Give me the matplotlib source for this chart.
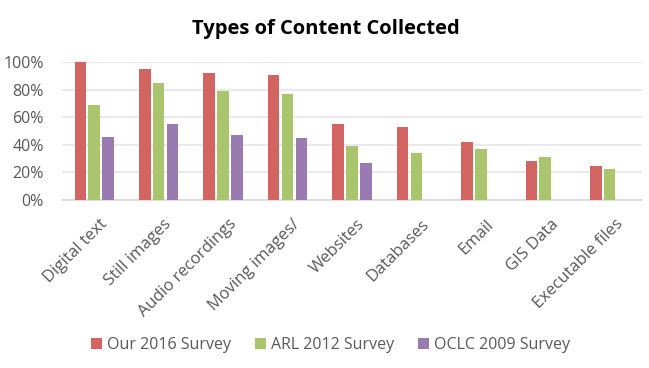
import numpy as np
import matplotlib.pyplot as plt
import matplotlib.transforms as mtransforms
from matplotlib.ticker import PercentFormatter

categories = ["Digital text", "Still images", "Audio recordings", "Moving images/",
              "Websites", "Databases", "Email", "GIS Data", "Executable files"]
survey_2016 = [100, 95, 92, 91, 55, 53, 42, 28, 25]
arl_2012 = [69, 85, 79, 77, 39, 34, 37, 31, 22.5]
oclc_2009 = [46, 55, 47, 45, 27, np.nan, np.nan, np.nan, np.nan]
series_names = ["Our 2016 Survey", "ARL 2012 Survey", "OCLC 2009 Survey"]
colors = ["#D26462", "#A9C66F", "#997BB2"]

plt.rcParams['font.family'] = ['Open Sans', 'DejaVu Sans']

fig = plt.figure(figsize=(6.49, 3.68), dpi=100)
ax = fig.add_axes([0.0955, 0.4565, 0.8935, 0.3742])

x = np.arange(len(categories))
w = 0.18
step = 0.215
for i, (vals, name, c) in enumerate(zip([survey_2016, arl_2012, oclc_2009], series_names, colors)):
    ax.bar(x + (i - 1) * step, np.array(vals) / 100, width=w, color=c, label=name, zorder=3)

ax.set_xlim(-0.5, len(categories) - 0.5)
ax.set_ylim(0, 1.0)
ax.set_yticks(np.arange(0, 1.01, 0.2))
ax.yaxis.set_major_formatter(PercentFormatter(1.0, decimals=0))
ax.grid(axis='y', color='#E6E6E6', linewidth=1.2, zorder=0)
for s in ['top', 'right', 'left']:
    ax.spines[s].set_visible(False)
ax.spines['bottom'].set_color('#D9D9D9')
ax.spines['bottom'].set_linewidth(1.2)
ax.tick_params(axis='both', length=0, colors='#595959')
ax.tick_params(axis='y', pad=13, labelsize=11.5)
ax.tick_params(axis='x', pad=6, labelsize=12)
ax.set_xticks(x)
ax.set_xticklabels(categories, rotation=45, ha='right', va='top', rotation_mode='anchor')
shift = mtransforms.ScaledTranslation(5 / 100, -8 / 100, fig.dpi_scale_trans)
for lbl in ax.get_xticklabels():
    lbl.set_transform(lbl.get_transform() + shift)

fig.text(0.502, 0.922, "Types of Content Collected", ha='center', va='center',
         fontsize=14.5, fontweight='bold', color='black')

handles, labels = ax.get_legend_handles_labels()
fig.legend(handles, labels, loc='center', bbox_to_anchor=(0.509, 0.062), ncol=3,
           frameon=False, fontsize=11.5, handlelength=0.7, handleheight=0.7,
           handletextpad=0.3, columnspacing=1.5, labelcolor='#595959')

fig.savefig("out.png", dpi=100)
